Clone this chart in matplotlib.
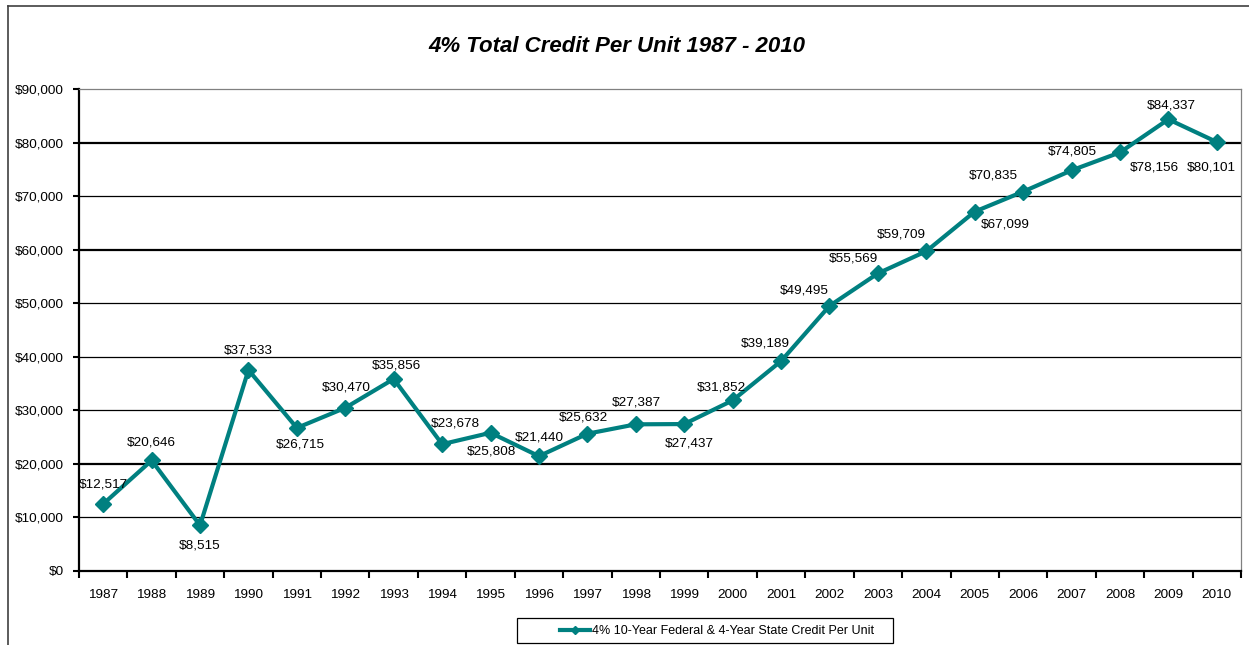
import matplotlib
matplotlib.use("Agg")
import matplotlib.pyplot as plt
import numpy as np
from matplotlib.lines import Line2D
from matplotlib.patches import Rectangle
from matplotlib.ticker import FuncFormatter

# ---- data ----
years = ["1987", "1988", "1989", "1990", "1991", "1992", "1993", "1994", "1995", "1996",
         "1997", "1998", "1999", "2000", "2001", "2002", "2003", "2004", "2005", "2006",
         "2007", "2008", "2009", "2010"]
credit = [12517, 20646, 8515, 37533, 26715, 30470, 35856, 23678, 25808, 21440,
          25632, 27387, 27437, 31852, 39189, 49495, 55569, 59709, 67099, 70835,
          74805, 78156, 84337, 80101]
title = "4% Total Credit Per Unit 1987 - 2010"
series_name = "4% 10-Year Federal & 4-Year State Credit Per Unit"
y_ticks = [0, 10000, 20000, 30000, 40000, 50000, 60000, 70000, 80000, 90000]

# ---- styles (label offsets in pixels) ----
label_offsets = [(0, 19), (0, 18), (0, -20), (0, 19), (3, -17), (1, 20), (3, 13), (13, 21),
                 (1, -19), (0, 19), (-4, 16), (1, 22), (5, -19), (-11, 13), (-16, 18),
                 (-25, 15), (-24, 15), (-25, 17), (31, -13), (-30, 16), (1, 19), (34, -15),
                 (3, 14), (-5, -25)]
thick_grid = {20000, 60000, 80000}
teal = "#008080"
FONT = "Liberation Sans"
plt.rcParams["font.family"] = [FONT, "DejaVu Sans"]

W, H = 1249, 645
fig = plt.figure(figsize=(W / 100, H / 100), dpi=100)
fig.patch.set_facecolor("white")

L, R, T, B = 79, 1241, 89, 571
ax = fig.add_axes([L / W, 1 - B / H, (R - L) / W, (B - T) / H])

x = np.arange(len(years))
ax.set_xlim(-0.5, len(years) - 0.5)
ax.set_ylim(y_ticks[0], y_ticks[-1])

# gridlines
for yv in y_ticks[1:-1]:
    if yv in thick_grid:
        ax.axhline(yv, color="black", lw=1.6, zorder=1)
    else:
        ax.axhline(yv, color="black", lw=0.9, zorder=1)

ax.plot(x, credit, color=teal, lw=3.0, marker="D", markersize=8.5,
        markeredgecolor=teal, markerfacecolor=teal, zorder=3, clip_on=False)

for xi, v, (dx, dy) in zip(x, credit, label_offsets):
    ax.annotate(f"${v:,.0f}", (xi, v), xytext=(dx, dy), textcoords="offset pixels",
                ha="center", va="center", fontsize=9.7, color="black", zorder=4)

# axes styling
for s in ["left", "bottom"]:
    ax.spines[s].set_color("black")
    ax.spines[s].set_linewidth(1.6)
for s in ["top", "right"]:
    ax.spines[s].set_color("#808080")
    ax.spines[s].set_linewidth(0.9)

ax.set_yticks(y_ticks)
ax.yaxis.set_major_formatter(FuncFormatter(lambda v, p: f"${v:,.0f}"))
ax.tick_params(axis="y", direction="out", length=4, width=1.5, pad=7, labelsize=9.7)

ax.set_xticks(np.arange(-0.5, len(years), 1))
ax.set_xticklabels([])
ax.set_xticks(x, minor=True)
ax.set_xticklabels(years, minor=True)
ax.tick_params(axis="x", which="major", direction="out", length=5, width=1.5)
ax.tick_params(axis="x", which="minor", length=0, pad=13, labelsize=9.7)

fig.text(617 / W, 1 - 47 / H, title, ha="center", va="center", fontsize=16,
         fontweight="bold", fontstyle="italic")

# outer frame (left and top edges)
fig.add_artist(Line2D([8 / W, 8 / W], [0, 1 - 6 / H], transform=fig.transFigure,
                      color="#404040", lw=1.2))
fig.add_artist(Line2D([8 / W, 1], [1 - 6 / H, 1 - 6 / H], transform=fig.transFigure,
                      color="#404040", lw=1.2))

# legend box
fig.add_artist(Rectangle((517 / W, 1 - 643 / H), (893 - 517) / W, (643 - 618) / H,
                         transform=fig.transFigure, fill=False, edgecolor="black", lw=0.9))
handle = Line2D([], [], color=teal, lw=3, marker="D", markersize=4)
leg = fig.legend([handle], [series_name], loc="center", bbox_to_anchor=(717 / W, 1 - 631 / H),
                 frameon=False, fontsize=9, handlelength=2.4, handletextpad=0.1,
                 borderpad=0.2)

fig.savefig("out.png", dpi=100, facecolor="white")
